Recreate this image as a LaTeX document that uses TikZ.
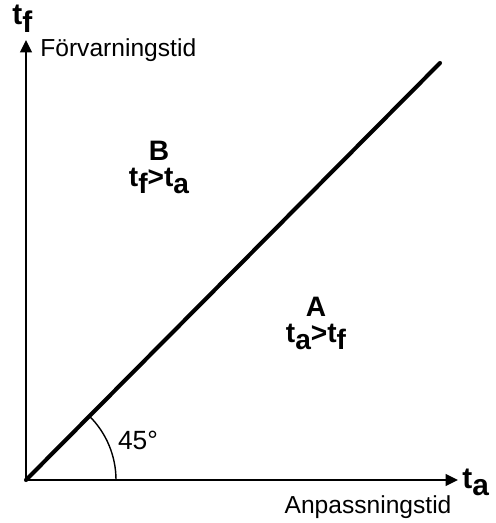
\documentclass[tikz,border=0pt]{standalone}
\usepackage{fontspec}
\setmainfont{Liberation Sans}
\usetikzlibrary{arrows.meta,positioning}
\newcommand{\lowsub}[1]{\raisebox{-0.25em}{#1}}

\begin{document}
\begin{tikzpicture}[
  x=0.02cm, y=-0.02cm,
  axis/.style={line width=1.3pt, -{Triangle[length=7pt,width=6.5pt]}},
  diag/.style={line width=2.3pt, line cap=round},
  anglearc/.style={line width=0.8pt},
  axistitle/.style={font=\fontsize{14}{16}\selectfont, inner sep=0pt},
  region/.style={font=\fontsize{16}{18}\selectfont\bfseries, inner sep=0pt},
  axissym/.style={font=\fontsize{17}{19}\selectfont\bfseries, inner sep=0pt}
]
\useasboundingbox (0,0) rectangle (495,523);

% Coordinates
\coordinate (origin) at (26,480);
\coordinate (ytip) at (26,40);
\coordinate (xtip) at (458,480);
\coordinate (diagend) at (440,63);

% Axes and diagonal
\draw[axis] (origin) -- (ytip);
\draw[axis] (origin) -- (xtip);
\draw[diag] (origin) -- (diagend);
\draw[anglearc] (origin) ++(90,0) arc[start angle=0, end angle=-45, radius=90];

% Axis labels
\node[axissym, anchor=base west] (tflabel) at (12,25) {t\lowsub{f}};
\node[axistitle, anchor=west] (ytitle) at (40,50) {Förvarningstid};
\node[axissym, anchor=base west] (talabel) at (462,488) {t\lowsub{a}};
\node[axistitle, anchor=base] (xtitle) at (368,513) {Anpassningstid};

% Regions
\node[region] (B) at (159,151) {B};
\node[region, below=4pt of B] (Bineq) {t\lowsub{f}>t\lowsub{a}};
\node[region] (A) at (316,307) {A};
\node[region, below=4pt of A] (Aineq) {t\lowsub{a}>t\lowsub{f}};
\node[font=\fontsize{15}{17}\selectfont, inner sep=0pt] (angle) at (138,440) {45°};
\end{tikzpicture}
\end{document}
